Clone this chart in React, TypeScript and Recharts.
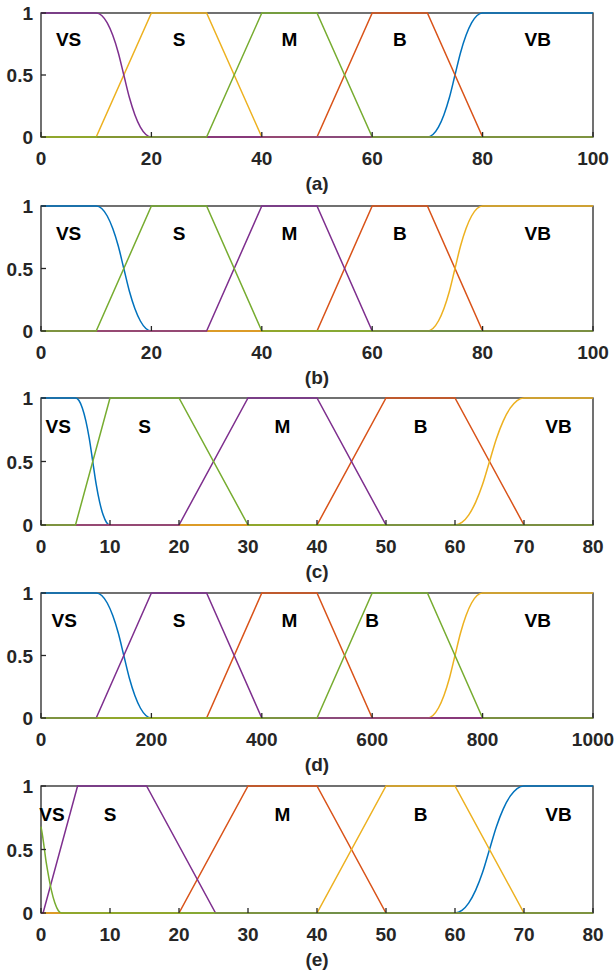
import { LineChart, Line, XAxis, YAxis, ReferenceDot } from "recharts";

/**
 * Membership functions VS / S / M / B / VB, five panels (a)..(e)
 * one LineChart per panel, MATLAB-like boxed axes with inward ticks
 */

type Pt = [number, number];

const INK = "#262626";
const FONT = '"Liberation Sans", Arial, Helvetica, sans-serif';
const BLUE = "#0072BD";
const ORANGE = "#D95319";
const YELLOW = "#EDB120";
const PURPLE = "#7E2F8E";
const GREEN = "#77AC30";

const TERMS = ["VS", "S", "M", "B", "VB"];
const Y_TICKS = [0, 0.5, 1];
const X_TICKS_100 = [0, 20, 40, 60, 80, 100];
const X_TICKS_80 = [0, 10, 20, 30, 40, 50, 60, 70, 80];
const X_TICKS_1000 = [0, 200, 400, 600, 800, 1000];

// (a) and (b): universe 0..100
const AB_VS: Pt[] = [[0, 1], [10, 1], [11, 0.98], [12, 0.92], [13, 0.82], [14, 0.68], [15, 0.5], [16, 0.32], [17, 0.18], [18, 0.08], [19, 0.02], [20, 0], [100, 0]];
const AB_S: Pt[] = [[0, 0], [10, 0], [20, 1], [30, 1], [40, 0], [100, 0]];
const AB_M: Pt[] = [[0, 0], [30, 0], [40, 1], [50, 1], [60, 0], [100, 0]];
const AB_B: Pt[] = [[0, 0], [50, 0], [60, 1], [70, 1], [80, 0], [100, 0]];
const AB_VB: Pt[] = [[0, 0], [70, 0], [71, 0.02], [72, 0.08], [73, 0.18], [74, 0.32], [75, 0.5], [76, 0.68], [77, 0.82], [78, 0.92], [79, 0.98], [80, 1], [100, 1]];
const AB_TERM_X = [5, 25, 45, 65, 90];

// (c): universe 0..80
const C_VS: Pt[] = [[0, 1], [5, 1], [5.5, 0.98], [6, 0.92], [6.5, 0.82], [7, 0.68], [7.5, 0.5], [8, 0.32], [8.5, 0.18], [9, 0.08], [9.5, 0.02], [10, 0], [80, 0]];
const C_S: Pt[] = [[0, 0], [5, 0], [10, 1], [20, 1], [30, 0], [80, 0]];
const C_M: Pt[] = [[0, 0], [20, 0], [30, 1], [40, 1], [50, 0], [80, 0]];
const C_B: Pt[] = [[0, 0], [40, 0], [50, 1], [60, 1], [70, 0], [80, 0]];
const C_VB: Pt[] = [[0, 0], [60, 0], [61, 0.02], [62, 0.08], [63, 0.18], [64, 0.32], [65, 0.5], [66, 0.68], [67, 0.82], [68, 0.92], [69, 0.98], [70, 1], [80, 1]];
const C_TERM_X = [2.5, 15, 35, 55, 75];

// (d): universe 0..1000
const D_VS: Pt[] = [[0, 1], [100, 1], [110, 0.98], [120, 0.92], [130, 0.82], [140, 0.68], [150, 0.5], [160, 0.32], [170, 0.18], [180, 0.08], [190, 0.02], [200, 0], [1000, 0]];
const D_S: Pt[] = [[0, 0], [100, 0], [200, 1], [300, 1], [400, 0], [1000, 0]];
const D_M: Pt[] = [[0, 0], [300, 0], [400, 1], [500, 1], [600, 0], [1000, 0]];
const D_B: Pt[] = [[0, 0], [500, 0], [600, 1], [700, 1], [800, 0], [1000, 0]];
const D_VB: Pt[] = [[0, 0], [700, 0], [710, 0.02], [720, 0.08], [730, 0.18], [740, 0.32], [750, 0.5], [760, 0.68], [770, 0.82], [780, 0.92], [790, 0.98], [800, 1], [1000, 1]];
const D_TERM_X = [42, 250, 450, 600, 900];

// (e): universe 0..80
const E_VS: Pt[] = [[0, 0.68], [0.25, 0.6], [0.5, 0.5], [0.75, 0.4], [1, 0.32], [1.5, 0.18], [2, 0.08], [2.5, 0.02], [3, 0], [80, 0]];
const E_S: Pt[] = [[0, 0], [0.3, 0], [5.3, 1], [15.3, 1], [25.3, 0], [80, 0]];
const E_M: Pt[] = [[0, 0], [20, 0], [30, 1], [40, 1], [50, 0], [80, 0]];
const E_B: Pt[] = [[0, 0], [40, 0], [50, 1], [60, 1], [70, 0], [80, 0]];
const E_VB: Pt[] = [[0, 0], [60, 0], [61, 0.02], [62, 0.08], [63, 0.18], [64, 0.32], [65, 0.5], [66, 0.68], [67, 0.82], [68, 0.92], [69, 0.98], [70, 1], [80, 1]];
const E_TERM_X = [1.6, 10, 35, 55, 75];

interface Series {
    pts: Pt[];
    color: string;
    smooth?: boolean;
}

interface PanelCfg {
    caption: string;
    max: number;
    ticks: number[];
    termX: number[];
    termY: number;
    series: Series[]; // in plot order, last one on top
    top: number;
    h: number;
}

const PANELS: PanelCfg[] = [
    {
        caption: "(a)", max: 100, ticks: X_TICKS_100, termX: AB_TERM_X, termY: 0.79, top: 13, h: 124,
        series: [
            { pts: AB_VB, color: BLUE, smooth: true },
            { pts: AB_B, color: ORANGE },
            { pts: AB_S, color: YELLOW },
            { pts: AB_VS, color: PURPLE, smooth: true },
            { pts: AB_M, color: GREEN },
        ],
    },
    {
        caption: "(b)", max: 100, ticks: X_TICKS_100, termX: AB_TERM_X, termY: 0.78, top: 206, h: 125,
        series: [
            { pts: AB_VS, color: BLUE, smooth: true },
            { pts: AB_B, color: ORANGE },
            { pts: AB_VB, color: YELLOW, smooth: true },
            { pts: AB_M, color: PURPLE },
            { pts: AB_S, color: GREEN },
        ],
    },
    {
        caption: "(c)", max: 80, ticks: X_TICKS_80, termX: C_TERM_X, termY: 0.78, top: 398, h: 127,
        series: [
            { pts: C_VS, color: BLUE, smooth: true },
            { pts: C_B, color: ORANGE },
            { pts: C_VB, color: YELLOW, smooth: true },
            { pts: C_M, color: PURPLE },
            { pts: C_S, color: GREEN },
        ],
    },
    {
        caption: "(d)", max: 1000, ticks: X_TICKS_1000, termX: D_TERM_X, termY: 0.78, top: 593, h: 125,
        series: [
            { pts: D_VS, color: BLUE, smooth: true },
            { pts: D_M, color: ORANGE },
            { pts: D_VB, color: YELLOW, smooth: true },
            { pts: D_S, color: PURPLE },
            { pts: D_B, color: GREEN },
        ],
    },
    {
        caption: "(e)", max: 80, ticks: X_TICKS_80, termX: E_TERM_X, termY: 0.78, top: 786, h: 127,
        series: [
            { pts: E_VB, color: BLUE, smooth: true },
            { pts: E_M, color: ORANGE },
            { pts: E_B, color: YELLOW },
            { pts: E_S, color: PURPLE },
            { pts: E_VS, color: GREEN, smooth: true },
        ],
    },
];

const W = 614;
// plot box: left 41, right 593, each axis takes 1px of the margin
const ML = 40;
const MR = 20;
const MT = 12;
const MB = 56;
const AX = 1;
const TICK = 5;
const FS = 19;

const textStyle = { fill: INK, fontSize: FS, fontWeight: "bold" as const, fontFamily: FONT };
const frame = { stroke: INK, strokeWidth: 1.3 };

function BottomTick({ x, y, payload }: any) {
    return (
        <g>
            <line x1={x} y1={y} x2={x} y2={y - TICK} {...frame} />
            <text x={x} y={y + 28} textAnchor="middle" {...textStyle}>
                {payload.value}
            </text>
        </g>
    );
}

function TopTick({ x, y }: any) {
    return <line x1={x} y1={y} x2={x} y2={y + TICK} {...frame} />;
}

function LeftTick({ x, y, payload }: any) {
    return (
        <g>
            <line x1={x} y1={y} x2={x + TICK} y2={y} {...frame} />
            <text x={x - 8} y={y + 7} textAnchor="end" {...textStyle}>
                {payload.value}
            </text>
        </g>
    );
}

function RightTick({ x, y }: any) {
    return <line x1={x} y1={y} x2={x - TICK} y2={y} {...frame} />;
}

function Panel({ cfg }: { cfg: PanelCfg }) {
    const top0 = MT + AX;
    const height = top0 + cfg.h + MB + AX;
    const left0 = ML + AX;
    const plotW = W - ML - MR - 2 * AX;
    const domain: [number, number] = [0, cfg.max];
    return (
        <div style={{ position: "absolute", left: 0, top: cfg.top - top0, width: W, height }}>
            {/* axes box sits under the curves, as in MATLAB */}
            <svg width={W} height={height} style={{ position: "absolute", left: 0, top: 0 }}>
                <rect x={left0} y={top0} width={plotW} height={cfg.h} fill="none" {...frame} />
            </svg>
            <LineChart width={W} height={height} margin={{ top: MT, right: MR, bottom: MB, left: ML }}>
                <XAxis
                    xAxisId="b"
                    dataKey="x"
                    type="number"
                    domain={domain}
                    ticks={cfg.ticks}
                    interval={0}
                    height={AX}
                    tickSize={0}
                    tickMargin={0}
                    tickLine={false}
                    axisLine={false}
                    tick={BottomTick}
                />
                <XAxis
                    xAxisId="t"
                    orientation="top"
                    type="number"
                    domain={domain}
                    ticks={cfg.ticks}
                    interval={0}
                    height={AX}
                    tickSize={0}
                    tickMargin={0}
                    tickLine={false}
                    axisLine={false}
                    tick={TopTick}
                />
                <YAxis
                    yAxisId="l"
                    type="number"
                    domain={[0, 1]}
                    ticks={Y_TICKS}
                    interval={0}
                    width={AX}
                    tickSize={0}
                    tickMargin={0}
                    tickLine={false}
                    axisLine={false}
                    tick={LeftTick}
                />
                <YAxis
                    yAxisId="r"
                    orientation="right"
                    type="number"
                    domain={[0, 1]}
                    ticks={Y_TICKS}
                    interval={0}
                    width={AX}
                    tickSize={0}
                    tickMargin={0}
                    tickLine={false}
                    axisLine={false}
                    tick={RightTick}
                />
                {cfg.series.map((s, i) => (
                    <Line
                        key={i}
                        xAxisId="b"
                        yAxisId="l"
                        data={s.pts.map(([x, y]) => ({ x, y }))}
                        dataKey="y"
                        type={s.smooth ? "monotone" : "linear"}
                        stroke={s.color}
                        strokeWidth={1.5}
                        dot={false}
                        activeDot={false}
                        isAnimationActive={false}
                    />
                ))}
                {TERMS.map((t, i) => (
                    <ReferenceDot
                        key={t}
                        xAxisId="b"
                        yAxisId="l"
                        x={cfg.termX[i]}
                        y={cfg.termY}
                        r={0}
                        fill="none"
                        stroke="none"
                        label={{ value: t, position: "center", fill: "#000", fontSize: FS, fontWeight: "bold", fontFamily: FONT }}
                    />
                ))}
            </LineChart>
            <div
                style={{
                    position: "absolute",
                    left: left0,
                    top: top0 + cfg.h + 35,
                    width: plotW,
                    height: 24,
                    lineHeight: "24px",
                    textAlign: "center",
                    color: INK,
                    fontFamily: FONT,
                    fontWeight: "bold",
                    fontSize: FS,
                }}
            >
                {cfg.caption}
            </div>
        </div>
    );
}

export default function App() {
    return (
        <div style={{ position: "absolute", left: 0, top: 0, width: W, height: 971, background: "#fff" }}>
            {PANELS.map((p) => (
                <Panel key={p.caption} cfg={p} />
            ))}
        </div>
    );
}
